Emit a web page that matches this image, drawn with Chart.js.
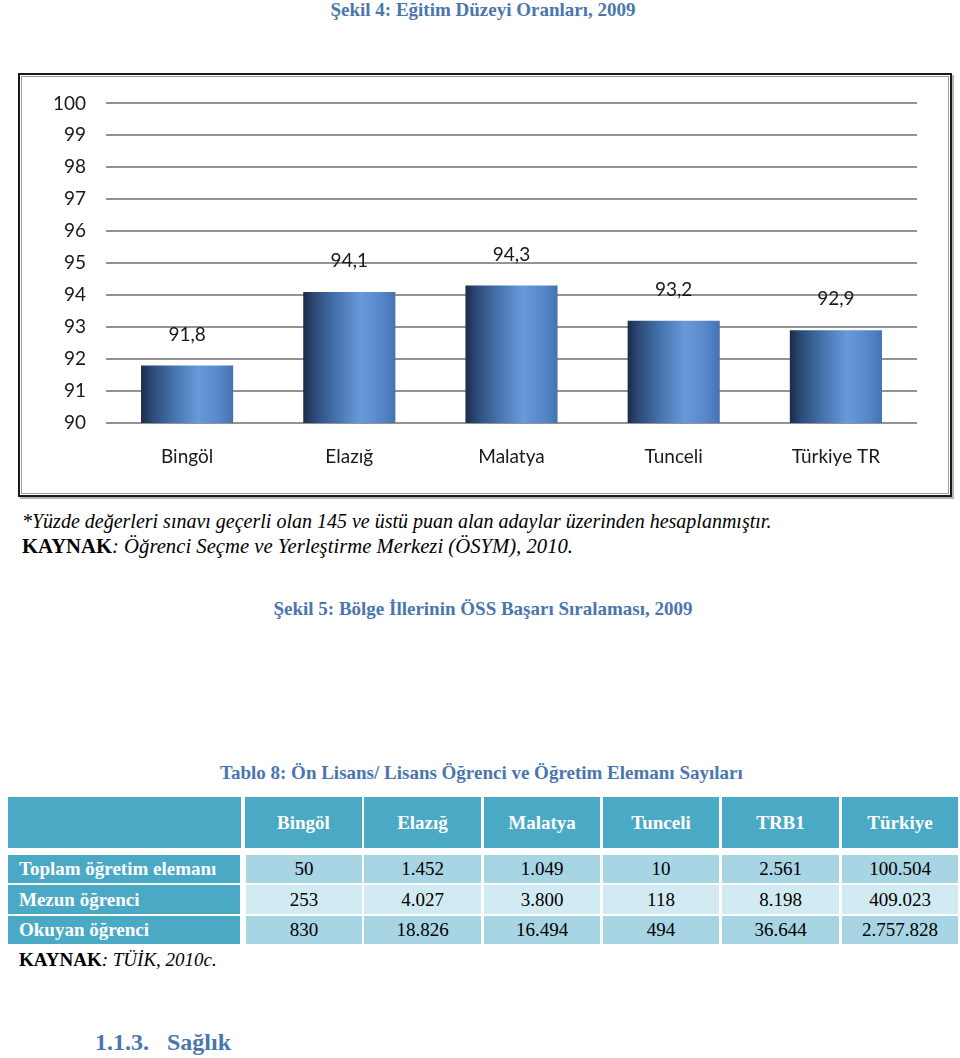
<!DOCTYPE html>
<html>
<head>
<meta charset="utf-8">
<script src="https://cdn.jsdelivr.net/npm/chart.js@4.4.1/dist/chart.umd.min.js"></script>
<style>
  body { margin: 0; background: #fff; width: 960px; height: 1058px; position: relative; overflow: hidden; }
  .t { position: absolute; white-space: nowrap; font-family: "Liberation Serif", "Times New Roman", serif; font-size: 19px; line-height: 1; }
  .blue { color: #4a76ae; font-weight: bold; }
  #frame { position: absolute; left: 18px; top: 73px; width: 930px; height: 420px; border: 2px solid #1a1a1a;
           box-shadow: inset 0 0 0 1px #fff, inset 0 0 0 2px #a0a0a0, 2px 2px 0 #b5b5b5; }
  .cell { position: absolute; font-family: "Liberation Serif", "Times New Roman", serif; font-size: 19px;
          display: flex; align-items: center; justify-content: center; white-space: nowrap; }
</style>
</head>
<body>
<div class="t blue" style="left:0;width:966px;text-align:center;top:0px;">Şekil 4: Eğitim Düzeyi Oranları, 2009</div>
<div id="frame"></div>
<canvas id="educationChart" width="926" height="421" style="position:absolute;left:22px;top:72px;"></canvas>

<div class="t" style="left:22px;top:511px;font-style:italic;font-size:20px;">*Yüzde değerleri sınavı geçerli olan 145 ve üstü puan alan adaylar üzerinden hesaplanmıştır.</div>
<div class="t" style="left:22px;top:536px;font-size:20.7px;"><b>KAYNAK</b><i>: Öğrenci Seçme ve Yerleştirme Merkezi (ÖSYM), 2010.</i></div>
<div class="t blue" style="left:0;width:966px;text-align:center;top:599px;">Şekil 5: Bölge İllerinin ÖSS Başarı Sıralaması, 2009</div>
<div class="t blue" style="left:220px;top:763px;">Tablo 8: Ön Lisans/ Lisans Öğrenci ve Öğretim Elemanı Sayıları</div>
<div id="table"></div>
<div class="t" style="left:19px;top:950px;"><b>KAYNAK</b><i>: TÜİK, 2010c.</i></div>
<div class="t blue" style="left:95px;top:1030px;font-size:24px;">1.1.3.&nbsp;&nbsp; Sağlık</div>

<script>
// chart data (Şekil 4)
const categories = ["Bingöl", "Elazığ", "Malatya", "Tunceli", "Türkiye TR"];
const rates = [91.8, 94.1, 94.3, 93.2, 92.9];

// table data (Tablo 8)
const tableColumns = ["Bingöl", "Elazığ", "Malatya", "Tunceli", "TRB1", "Türkiye"];
const rowLabels = ["Toplam öğretim elemanı", "Mezun öğrenci", "Okuyan öğrenci"];
const staffCounts = ["50", "1.452", "1.049", "10", "2.561", "100.504"];
const graduateCounts = ["253", "4.027", "3.800", "118", "8.198", "409.023"];
const studentCounts = ["830", "18.826", "16.494", "494", "36.644", "2.757.828"];

function buildTable() {
  const root = document.getElementById("table");
  const colX = [[8, 241], [245, 362], [364, 481], [484, 600], [603, 719], [722, 839], [842, 958]];
  const rows = [[855, 883], [885, 914], [916, 944]];
  const addCell = (x0, x1, y0, y1, text, style) => {
    const d = document.createElement("div");
    d.className = "cell";
    d.style.left = x0 + "px"; d.style.top = y0 + "px";
    d.style.width = (x1 - x0) + "px"; d.style.height = (y1 - y0) + "px";
    Object.assign(d.style, style);
    d.textContent = text;
    root.appendChild(d);
  };
  const head = { background: "#4aa9c5", color: "#fff", fontWeight: "bold" };
  addCell(colX[0][0], colX[0][1], 797, 848, "", head);
  tableColumns.forEach((c, i) => addCell(colX[i + 1][0], colX[i + 1][1], 797, 848, c, head));
  const values = [staffCounts, graduateCounts, studentCounts];
  rowLabels.forEach((label, r) => {
    const [y0, y1] = rows[r];
    addCell(colX[0][0], colX[0][1] - 1, y0, y1, label,
      Object.assign({}, head, { justifyContent: "flex-start", paddingLeft: "11px", boxSizing: "border-box" }));
    values[r].forEach((v, i) => {
      addCell(colX[i + 1][0] + (i === 0 ? 1 : 0), colX[i + 1][1], y0, y1, v,
        { background: r === 1 ? "#d2eaf2" : "#a7d5e3", color: "#000" });
    });
  });
}
buildTable();

function barGradient(context) {
  const chart = context.chart;
  const x = chart.scales.x;
  if (!x || !chart.chartArea) return "#4f81bd";
  const cx = x.getPixelForValue(context.dataIndex);
  const half = (x.width / categories.length) * 0.568 / 2;
  const g = chart.ctx.createLinearGradient(cx - half, 0, cx + half, 0);
  g.addColorStop(0, "#1b2c48");
  g.addColorStop(0.12, "#2c4a77");
  g.addColorStop(0.35, "#4572ab");
  g.addColorStop(0.62, "#6899da");
  g.addColorStop(0.85, "#5787c8");
  g.addColorStop(1, "#4473b2");
  return g;
}

const valueLabels = {
  id: "valueLabels",
  afterDatasetsDraw(chart) {
    const ctx = chart.ctx;
    ctx.save();
    ctx.font = "19px Lato";
    ctx.fillStyle = "#1a1a1a";
    ctx.textAlign = "center";
    ctx.textBaseline = "middle";
    chart.getDatasetMeta(0).data.forEach((bar, i) => {
      ctx.fillText(rates[i].toFixed(1).replace(".", ","), bar.x, bar.y - 31);
    });
    ctx.restore();
  }
};

const ctx = document.getElementById("educationChart").getContext("2d");
new Chart(ctx, {
  type: "bar",
  data: {
    labels: categories,
    datasets: [{
      label: "Oran",
      data: rates,
      backgroundColor: barGradient,
      borderWidth: 0,
      barPercentage: 0.568,
      categoryPercentage: 1
    }]
  },
  options: {
    responsive: false,
    animation: false,
    layout: { padding: { top: 20, right: 31, left: 0, bottom: 0 } },
    plugins: { legend: { display: false }, tooltip: { enabled: false } },
    scales: {
      x: {
        grid: { display: false, drawTicks: false },
        border: { display: false },
        ticks: { font: { family: "Lato", size: 19 }, color: "#1a1a1a", padding: 22 },
        afterFit: (s) => { s.height = 70; }
      },
      y: {
        min: 90, max: 100,
        grid: { color: "#939393", lineWidth: 2, drawTicks: false },
        border: { display: false },
        ticks: { stepSize: 1, font: { family: "Lato", size: 19 }, color: "#1a1a1a", padding: 20 },
        afterFit: (s) => { s.width = 84; }
      }
    }
  },
  plugins: [valueLabels]
});
</script>
</body>
</html>
